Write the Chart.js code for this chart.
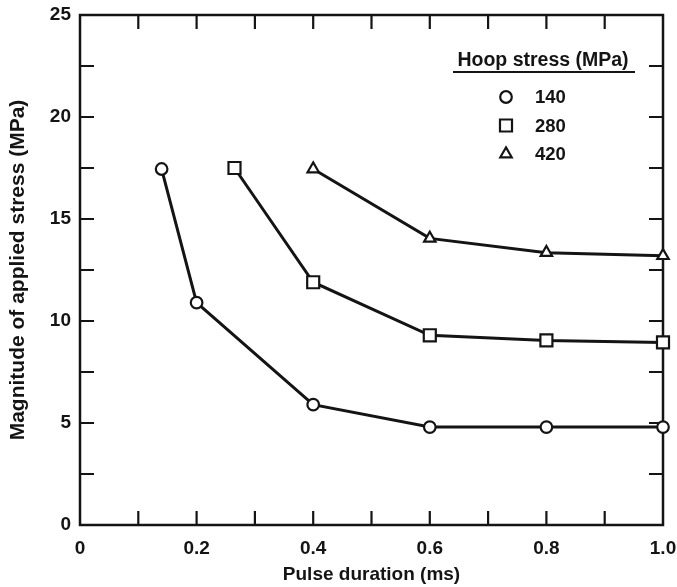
<!DOCTYPE html>
<html>
<head>
<meta charset="utf-8">
<title>Pulse duration vs applied stress</title>
<script src="https://cdn.jsdelivr.net/npm/chart.js@4.4.1/dist/chart.umd.min.js"></script>
<style>
  html, body { margin: 0; padding: 0; background: #fff; }
  #wrap { width: 677px; height: 587px; }
</style>
</head>
<body>
<div id="wrap"><canvas id="chart" width="677" height="587"></canvas></div>
<script>
// hoop stress 140 MPa
const pulse140 = [0.14, 0.2, 0.4, 0.6, 0.8, 1.0];
const stress140 = [17.45, 10.9, 5.9, 4.8, 4.8, 4.8];
// hoop stress 280 MPa
const pulse280 = [0.265, 0.4, 0.6, 0.8, 1.0];
const stress280 = [17.5, 11.9, 9.3, 9.05, 8.95];
// hoop stress 420 MPa
const pulse420 = [0.4, 0.6, 0.8, 1.0];
const stress420 = [17.45, 14.05, 13.35, 13.2];

const seriesNames = ['140', '280', '420'];
const xTickLabels = ['0', '0.2', '0.4', '0.6', '0.8', '1.0'];
const yTickLabels = ['0', '5', '10', '15', '20', '25'];

const INK = '#141414';
const FONT = '"Liberation Sans", Arial, Helvetica, sans-serif';

const toPoints = (xs, ys) => xs.map((x, i) => ({ x: x, y: ys[i] }));

const makeSeries = (label, xs, ys, style, radius) => ({
    label: label,
    data: toPoints(xs, ys),
    pointStyle: style,
    pointRadius: radius,
    pointHoverRadius: radius,
    pointBorderWidth: 2.2,
    pointBackgroundColor: '#ffffff',
    pointBorderColor: INK,
    borderColor: INK,
    borderWidth: 3,
    fill: false,
    tension: 0,
    clip: false,
});

// axis size is fixed by hand, and the label overhang is not allowed to shrink the plot
const fixSize = (width, height) => s => {
    if (width) s.width = width;
    if (height) s.height = height;
    s.paddingLeft = s.paddingRight = s.paddingTop = s.paddingBottom = 0;
};

// frame round the plot with ticks pointing inward on all four sides
const boxFrame = {
    id: 'boxFrame',
    beforeDatasetsDraw(chart) {
        const { ctx, chartArea: a, scales } = chart;
        const len = 14;
        ctx.save();
        ctx.strokeStyle = INK;
        ctx.lineWidth = 2.5;
        ctx.lineCap = 'butt';
        ctx.strokeRect(a.left, a.top, a.right - a.left, a.bottom - a.top);
        ctx.lineWidth = 2.2;
        ctx.beginPath();
        scales.x.ticks.forEach(t => {
            const px = scales.x.getPixelForValue(t.value);
            if (px <= a.left + 1 || px >= a.right - 1) return;
            ctx.moveTo(px, a.bottom);
            ctx.lineTo(px, a.bottom - len);
            ctx.moveTo(px, a.top);
            ctx.lineTo(px, a.top + len);
        });
        scales.y.ticks.forEach(t => {
            const py = scales.y.getPixelForValue(t.value);
            if (py <= a.top + 1 || py >= a.bottom - 1) return;
            ctx.moveTo(a.left, py);
            ctx.lineTo(a.left + len, py);
            ctx.moveTo(a.right, py);
            ctx.lineTo(a.right - len, py);
        });
        ctx.stroke();
        ctx.restore();
    }
};

// legend block with underlined title, inside the plot
const hoopLegend = {
    id: 'hoopLegend',
    afterDraw(chart, args, opts) {
        const { ctx } = chart;
        ctx.save();
        ctx.fillStyle = INK;
        ctx.font = 'bold 19.5px ' + FONT;
        ctx.textBaseline = 'alphabetic';
        ctx.textAlign = 'center';
        ctx.fillText(opts.title, opts.titleX, opts.titleY);
        ctx.strokeStyle = INK;
        ctx.lineWidth = 2.2;
        ctx.beginPath();
        ctx.moveTo(opts.lineLeft, opts.lineY);
        ctx.lineTo(opts.lineRight, opts.lineY);
        ctx.stroke();

        ctx.font = 'bold 18.5px ' + FONT;
        ctx.textAlign = 'left';
        ctx.textBaseline = 'middle';
        chart.data.datasets.forEach((ds, i) => {
            const y = opts.rowTop + i * opts.rowGap;
            ctx.fillStyle = '#ffffff';
            ctx.strokeStyle = INK;
            ctx.lineWidth = ds.pointBorderWidth;
            Chart.helpers.drawPoint(ctx, {
                pointStyle: ds.pointStyle,
                radius: ds.pointRadius,
                borderWidth: ds.pointBorderWidth,
                rotation: 0,
            }, opts.symbolX, y);
            ctx.fillStyle = INK;
            ctx.fillText(ds.label, opts.textX, y + 1);
        });
        ctx.restore();
    }
};

const ctx = document.getElementById('chart');
new Chart(ctx, {
    type: 'line',
    data: {
        datasets: [
            makeSeries(seriesNames[0], pulse140, stress140, 'circle', 5.8),
            makeSeries(seriesNames[1], pulse280, stress280, 'rect', 8.5),
            makeSeries(seriesNames[2], pulse420, stress420, 'triangle', 6.6),
        ]
    },
    plugins: [boxFrame, hoopLegend],
    options: {
        responsive: false,
        animation: false,
        events: [],
        layout: {
            padding: { top: 15, right: 14, left: 0, bottom: 0 }
        },
        plugins: {
            legend: { display: false },
            tooltip: { enabled: false },
            hoopLegend: {
                title: 'Hoop stress (MPa)',
                titleX: 543, titleY: 66,
                lineLeft: 453, lineRight: 635, lineY: 72,
                symbolX: 506, textX: 535,
                rowTop: 97, rowGap: 28.5,
            },
        },
        scales: {
            x: {
                type: 'linear',
                min: 0,
                max: 1,
                afterFit: fixSize(0, 62),
                grid: { display: false, drawTicks: false },
                border: { display: false },
                ticks: {
                    stepSize: 0.1,
                    autoSkip: false,
                    maxRotation: 0,
                    padding: 12,
                    color: INK,
                    font: { family: FONT, size: 19, weight: 'bold' },
                    callback: (val, index) => index % 2 === 0 ? xTickLabels[index / 2] : '',
                },
                title: {
                    display: true,
                    text: 'Pulse duration (ms)',
                    color: INK,
                    font: { family: FONT, size: 19, weight: 'bold' },
                    padding: { top: 0, bottom: 1 },
                },
            },
            y: {
                type: 'linear',
                min: 0,
                max: 25,
                afterFit: fixSize(80, 0),
                grid: { display: false, drawTicks: false },
                border: { display: false },
                ticks: {
                    stepSize: 2.5,
                    autoSkip: false,
                    padding: 9,
                    color: INK,
                    font: { family: FONT, size: 19, weight: 'bold' },
                    callback: (val, index) => index % 2 === 0 ? yTickLabels[index / 2] : '',
                },
                title: {
                    display: true,
                    text: 'Magnitude of applied stress (MPa)',
                    color: INK,
                    font: { family: FONT, size: 21, weight: 'bold' },
                    padding: { top: 6, bottom: 0 },
                },
            },
        },
    },
});
</script>
</body>
</html>
